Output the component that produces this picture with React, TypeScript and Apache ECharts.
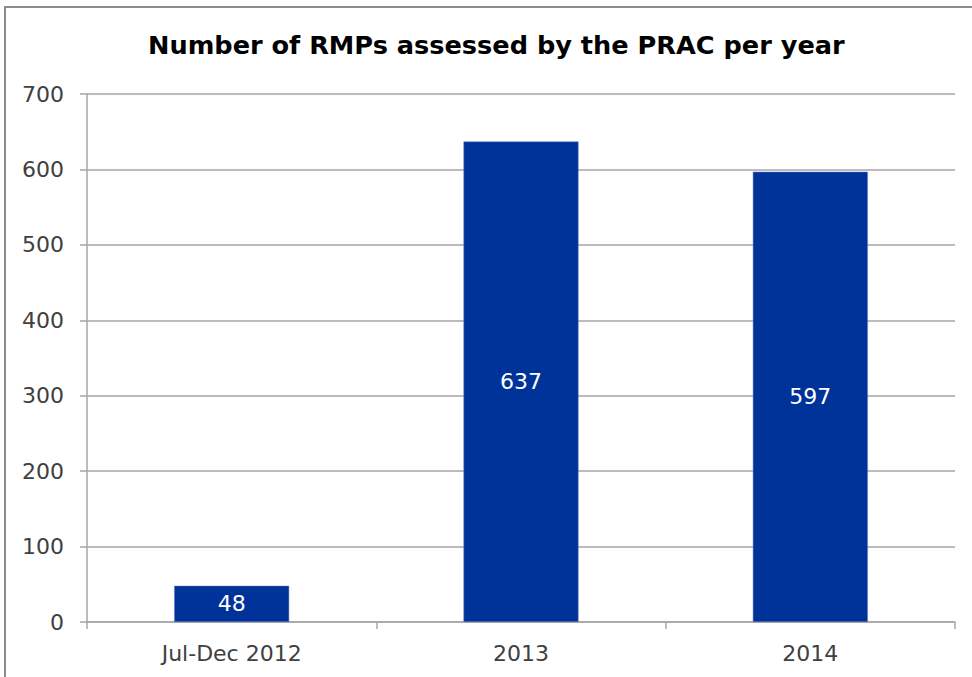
import React, { useEffect, useRef } from "react";
import * as echarts from "echarts";

const categories = ["Jul-Dec 2012", "2013", "2014"];
const values = [48, 637, 597];
const titleText = "Number of RMPs assessed by the PRAC per year";

export default function App() {
  const ref = useRef<HTMLDivElement>(null);
  useEffect(() => {
    document.body.style.margin = "0";
    const chart = echarts.init(ref.current!, null, { renderer: "svg" });
    const font = "DejaVu Sans, Verdana, sans-serif";
    chart.setOption({
      animation: false,
      backgroundColor: "#ffffff",
      title: {
        text: titleText,
        left: 148,
        top: 32,
        padding: 0,
        textStyle: { fontFamily: font, fontWeight: "bold", fontSize: 25.6, color: "#000" },
      },
      graphic: [
        {
          type: "rect",
          shape: { x: 5, y: 7, width: 1000, height: 700 },
          style: { fill: "none", stroke: "#8c8c8c", lineWidth: 2 },
          silent: true,
        },
      ],
      grid: { left: 87, right: 17, top: 94, bottom: 55 },
      xAxis: {
        type: "category",
        data: categories,
        boundaryGap: true,
        axisLine: { show: true, lineStyle: { color: "#a6a6a6", width: 1.5 } },
        axisTick: { show: true, length: 7, interval: 0, lineStyle: { color: "#a6a6a6", width: 1.5 } },
        axisLabel: { fontFamily: font, fontSize: 22, color: "#404040", margin: 20, interval: 0 },
      },
      yAxis: {
        type: "value",
        min: 0,
        max: 700,
        interval: 100,
        axisLine: { show: true, lineStyle: { color: "#a6a6a6", width: 1.5 } },
        axisTick: { show: true, length: 7, lineStyle: { color: "#a6a6a6", width: 1.5 } },
        splitLine: { show: true, lineStyle: { color: "#a6a6a6", width: 1.5 } },
        axisLabel: { fontFamily: font, fontSize: 22, color: "#404040", margin: 23 },
      },
      series: [
        {
          type: "bar",
          data: values,
          barWidth: 115,
          itemStyle: { color: "#003399", borderColor: "#6b7fbf", borderWidth: 0.5 },
          label: {
            show: true,
            position: "inside",
            color: "#ffffff",
            fontFamily: font,
            fontSize: 22,
          },
        },
      ],
    });
    return () => chart.dispose();
  }, []);
  return (
    <div
      ref={ref}
      style={{ position: "absolute", left: 0, top: 0, width: 972, height: 677 }}
    />
  );
}
